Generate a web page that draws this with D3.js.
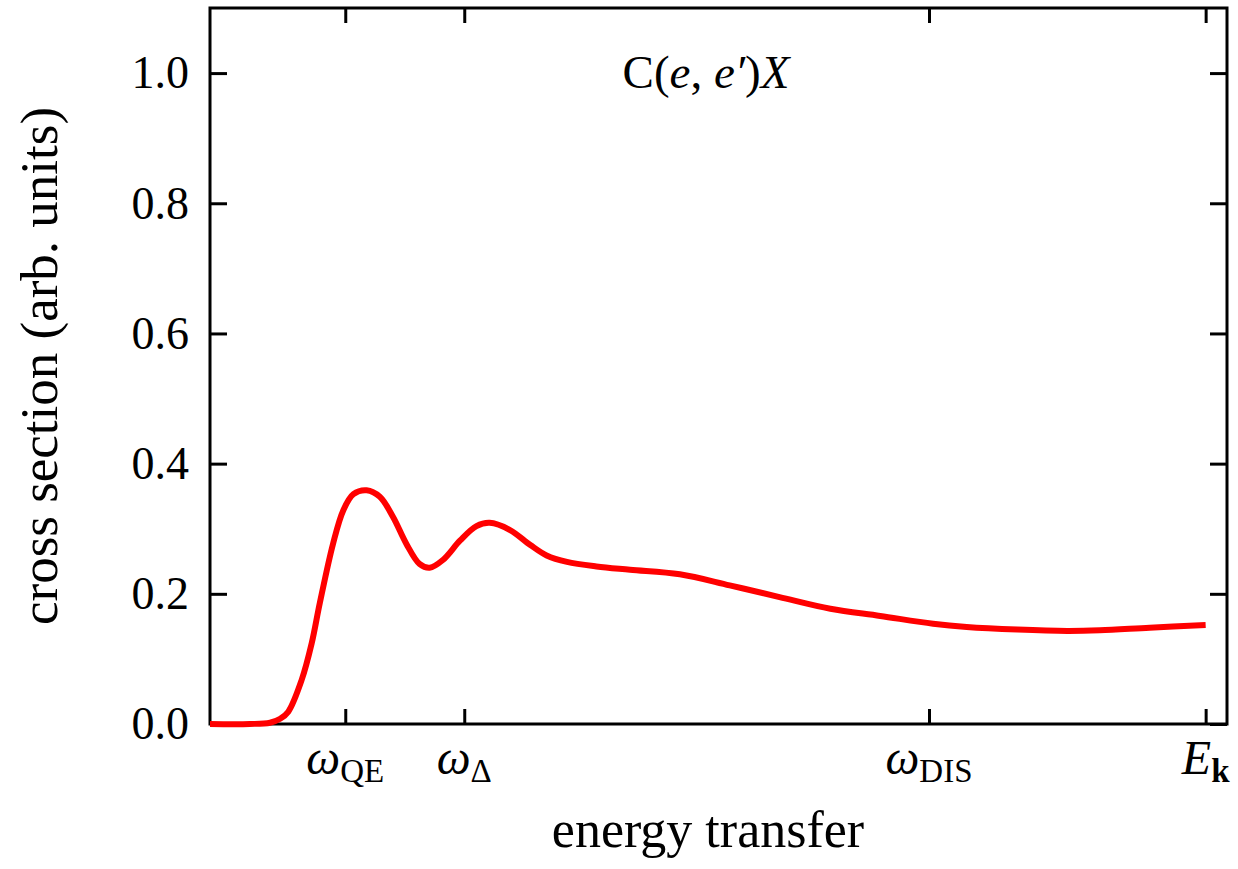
<!DOCTYPE html>
<html>
<head>
<meta charset="utf-8">
<script src="https://cdn.jsdelivr.net/npm/d3@7"></script>
<style>
    body { margin: 0; background: #fff; }
    svg text { font-family: "Liberation Serif", "Times New Roman", serif; fill: #000; }
</style>
</head>
<body>
<div id="chart"></div>
<script>
(function () {

    "use strict";

    // energy transfer (arb. units, 0..1000) and cross section
    var energy = [0, 39, 59, 69, 77, 90, 100, 108, 121, 131, 141, 154, 167, 180, 193, 206,
                  216, 229, 246, 262, 275, 295, 315, 331, 351, 380, 413, 462, 511, 560,
                  610, 659, 711, 744, 794, 843, 875, 924, 979];
    var crossSection = [0, 0, 0.002, 0.008, 0.019, 0.067, 0.124, 0.186, 0.277, 0.328, 0.353,
                        0.359, 0.349, 0.318, 0.277, 0.246, 0.240, 0.252, 0.282, 0.304, 0.309,
                        0.298, 0.275, 0.259, 0.249, 0.242, 0.237, 0.230, 0.213, 0.195, 0.177,
                        0.166, 0.154, 0.149, 0.145, 0.143, 0.144, 0.148, 0.152];

    var yTicks = [0, 0.2, 0.4, 0.6, 0.8, 1.0];
    var xTicks = [133, 250, 707, 979];
    var xTickSymbols = ["\u03C9", "\u03C9", "\u03C9", "E"];
    var xTickSubs = ["QE", "\u0394", "DIS", "k"];

    var width = 1238,
        height = 869,
        margin = {left: 210, top: 8, right: 11, bottom: 145},
        w = width - margin.left - margin.right,
        h = height - margin.top - margin.bottom;

    var x = d3.scaleLinear().domain([0, 1000]).range([0, w]),
        y = d3.scaleLinear().domain([0, 1.1]).range([h, 0]);

    var svg = d3.select("#chart").append("svg")
        .attr("width", width)
        .attr("height", height);

    var g = svg.append("g")
        .attr("transform", "translate(" + margin.left + "," + margin.top + ")");

    /* ticks on all four sides, pointing inwards */

    g.append("g")
        .attr("class", "y-left")
        .call(d3.axisLeft(y).tickValues(yTicks).tickSize(-17).tickPadding(21)
            .tickFormat(d3.format(".1f")));

    g.append("g")
        .attr("transform", "translate(" + w + ",0)")
        .call(d3.axisRight(y).tickValues(yTicks).tickSize(-17).tickFormat(""));

    g.append("g")
        .attr("transform", "translate(0," + h + ")")
        .call(d3.axisBottom(x).tickValues(xTicks).tickSize(-15).tickFormat(""));

    g.append("g")
        .call(d3.axisTop(x).tickValues(xTicks).tickSize(-15).tickFormat(""));

    g.selectAll(".domain").remove();
    g.selectAll(".tick line").attr("stroke", "#000").attr("stroke-width", 3);
    g.selectAll(".y-left text")
        .style("font-size", "46px")
        .attr("font-family", null);

    g.append("rect")
        .attr("x", 0)
        .attr("y", 0)
        .attr("width", w)
        .attr("height", h)
        .attr("fill", "none")
        .attr("stroke", "#000")
        .attr("stroke-width", 3);

    /* x tick labels with subscripts */

    var xl = g.append("g").selectAll("text")
        .data(xTicks)
        .enter()
        .append("text")
        .attr("x", function (d) { return x(d); })
        .attr("y", h + 50)
        .attr("text-anchor", "middle")
        .style("font-size", "48px");

    xl.append("tspan")
        .style("font-style", "italic")
        .text(function (d, i) { return xTickSymbols[i]; });

    xl.append("tspan")
        .attr("dy", 8)
        .style("font-size", "33px")
        .style("font-weight", function (d, i) { return i === 3 ? "bold" : "normal"; })
        .text(function (d, i) { return xTickSubs[i]; });

    /* the curve */

    var line = d3.line()
        .x(function (d, i) { return x(energy[i]); })
        .y(function (d) { return y(d); })
        .curve(d3.curveCatmullRom.alpha(0.5));

    g.append("path")
        .datum(crossSection)
        .attr("fill", "none")
        .attr("stroke", "#ff0000")
        .attr("stroke-width", 6)
        .attr("d", line);

    /* titles */

    var title = g.append("text")
        .attr("x", 496)
        .attr("y", 80)
        .attr("text-anchor", "middle")
        .style("font-size", "47px");
    title.append("tspan").text("C(");
    title.append("tspan").style("font-style", "italic").text("e");
    title.append("tspan").text(", ");
    title.append("tspan").style("font-style", "italic").text("e\u2032");
    title.append("tspan").text(")");
    title.append("tspan").style("font-style", "italic").text("X");

    svg.append("text")
        .attr("x", 708)
        .attr("y", 847)
        .attr("text-anchor", "middle")
        .style("font-size", "52px")
        .text("energy transfer");

    svg.append("text")
        .attr("transform", "translate(57," + (margin.top + h / 2) + ") rotate(-90)")
        .attr("text-anchor", "middle")
        .style("font-size", "53px")
        .text("cross section (arb. units)");

}());
</script>
</body>
</html>
